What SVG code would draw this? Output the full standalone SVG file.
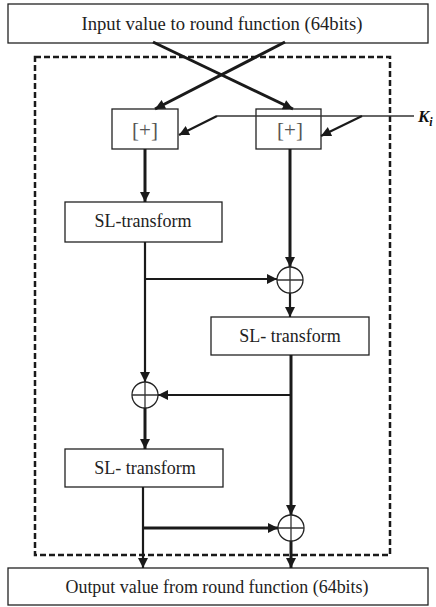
<svg xmlns="http://www.w3.org/2000/svg" width="436" height="607" viewBox="0 0 436 607">
<style>
.box{fill:#fff;stroke:#222;stroke-width:1.3}
.t{font-size:18px;fill:#222;text-anchor:middle}
.p{font-size:21px;fill:#555;text-anchor:middle}
.w{stroke:#1a1a1a;fill:none;stroke-width:3}
.m{stroke:#1a1a1a;fill:none;stroke-width:2.2}
.n{stroke:#333;fill:none;stroke-width:1.3}
.xo{fill:#fff;stroke:#222;stroke-width:1.3}
</style>
<defs>
<marker id="ah" viewBox="0 0 10 10" refX="10" refY="5" markerWidth="11" markerHeight="10" markerUnits="userSpaceOnUse" orient="auto">
<path d="M0,0 L10,5 L0,10 z" fill="#1a1a1a"/>
</marker>
</defs>
<rect x="35" y="57" width="355" height="498" fill="none" stroke="#1a1a1a" stroke-width="2.5" stroke-dasharray="6,3"/>
<g font-family="Liberation Serif, serif">
<g id="input"><rect class="box" x="8" y="4" width="420" height="39"/><text class="t" x="222" y="30" textLength="281" lengthAdjust="spacingAndGlyphs">Input value to round function (64bits)</text></g>
<g id="output"><rect class="box" x="8" y="568" width="420" height="37"/><text class="t" x="217" y="593" textLength="303" lengthAdjust="spacingAndGlyphs">Output value from round function (64bits)</text></g>
<g id="add1"><rect class="box" x="112" y="109" width="66" height="40"/><text class="p" x="145" y="137">[+]</text></g>
<g id="add2"><rect class="box" x="256" y="109" width="65" height="40"/><text class="p" x="290" y="137">[+]</text></g>
<g id="sl1"><rect class="box" x="65" y="202" width="157" height="40"/><text class="t" x="143" y="227">SL-transform</text></g>
<g id="sl2"><rect class="box" x="211" y="317" width="158" height="38"/><text class="t" x="290" y="342">SL- transform</text></g>
<g id="sl3"><rect class="box" x="65" y="449" width="158" height="38"/><text class="t" x="145" y="474">SL- transform</text></g>
<g id="ki"><text x="418" y="122" font-size="17" font-weight="bold" font-style="italic" fill="#111">K<tspan font-size="12" dy="4">i</tspan></text></g>
</g>
<g id="connectors">
<line class="w" x1="153" y1="42" x2="293" y2="109" marker-end="url(#ah)"/>
<line class="w" x1="285" y1="42" x2="155" y2="109" marker-end="url(#ah)"/>
<line class="n" x1="217" y1="116" x2="414" y2="116"/>
<line class="m" x1="217" y1="116" x2="179" y2="135" marker-end="url(#ah)"/>
<line class="m" x1="362" y1="116" x2="321" y2="136" marker-end="url(#ah)"/>
<line class="w" x1="145" y1="149" x2="145" y2="202" marker-end="url(#ah)"/>
<line class="w" x1="290" y1="149" x2="290" y2="267" marker-end="url(#ah)"/>
<line class="m" x1="145" y1="242" x2="145" y2="382" marker-end="url(#ah)"/>
<line class="m" x1="145" y1="279" x2="277" y2="279" marker-end="url(#ah)"/>
<line class="m" x1="290" y1="293" x2="290" y2="317" marker-end="url(#ah)"/>
<line class="w" x1="291" y1="355" x2="291" y2="515" marker-end="url(#ah)"/>
<line class="m" x1="291" y1="395" x2="158" y2="395" marker-end="url(#ah)"/>
<line class="w" x1="145" y1="408" x2="145" y2="449" marker-end="url(#ah)"/>
<line class="m" x1="143" y1="487" x2="143" y2="568" marker-end="url(#ah)"/>
<line class="w" x1="143" y1="528" x2="278" y2="528" marker-end="url(#ah)"/>
<line class="w" x1="291" y1="541" x2="291" y2="568" marker-end="url(#ah)"/>
</g>
<g id="xor1"><circle class="xo" cx="290" cy="280" r="13"/><path class="n" d="M277,280 H303 M290,267 V293"/></g>
<g id="xor2"><circle class="xo" cx="145" cy="395" r="13"/><path class="n" d="M132,395 H158 M145,382 V408"/></g>
<g id="xor3"><circle class="xo" cx="291" cy="528" r="13"/><path class="n" d="M278,528 H304 M291,515 V541"/></g>
</svg>
